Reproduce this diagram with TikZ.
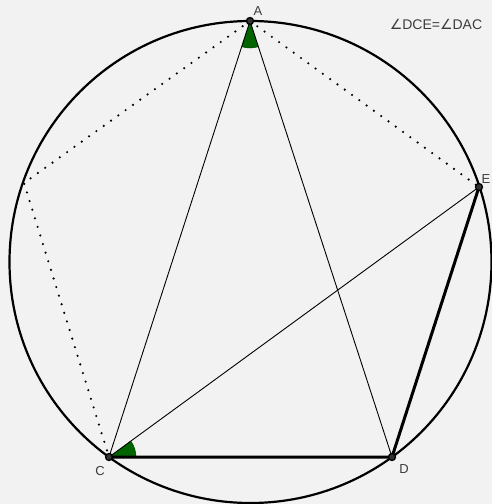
\documentclass[tikz,border=0pt]{standalone}
\usepackage{fontspec}
\setmainfont{Liberation Sans}
\newfontfamily\symfont{DejaVu Sans}
\usetikzlibrary{angles}
\definecolor{bg}{RGB}{242,242,242}
\definecolor{lbl}{RGB}{60,60,60}
\definecolor{mark}{RGB}{0,100,0}
\begin{document}
\begin{tikzpicture}[x=1pt,y=-1pt,
  thinline/.style={line width=0.9pt},
  thickline/.style={line width=3pt},
  dotline/.style={line width=2.4pt, dash pattern=on 0pt off 9pt, line cap=round},
  pt/.style={circle, fill=black!80, draw=black, line width=1.3pt, inner sep=0pt, minimum size=7pt},
  lab/.style={text=lbl, font=\fontsize{13}{13}\selectfont, inner sep=0pt},
  anglemark/.style={fill=mark, draw=mark!70!black, line width=0.5pt, angle radius=27pt}]
\fill[bg] (0,0) rectangle (492,504);
\useasboundingbox (0,0) rectangle (492,504);
\coordinate (O) at (250.5,262);
\coordinate (A) at (250,21);
\coordinate (E) at (479,187);
\coordinate (C) at (109,457);
\coordinate (D) at (392,457);
\coordinate (L) at (24,183);
\draw[line width=2.2pt] (O) circle[radius=241];
\pic[anglemark] {angle = C--A--D};
\pic[anglemark] {angle = D--C--E};
\draw[dotline] (A) -- (L) -- (C);
\draw[dotline] (A) -- (E);
\draw[thinline] (C) -- (A) -- (D);
\draw[thinline] (C) -- (E);
\draw[thickline] (C) -- (D) -- (E);
\node[pt] (pA) at (A) {};
\node[pt] (pE) at (E) {};
\node[pt] (pC) at (C) {};
\node[pt] (pD) at (D) {};
\node[lab] (lA) at (258,11) {A};
\node[lab] (lE) at (486,179) {E};
\node[lab] (lC) at (100,471) {C};
\node[lab] (lD) at (404,469) {D};
\node[lab, font=\fontsize{14}{14}\selectfont] (eq) at (436,24) {{\symfont ∠}DCE={\symfont ∠}DAC};
\end{tikzpicture}
\end{document}
